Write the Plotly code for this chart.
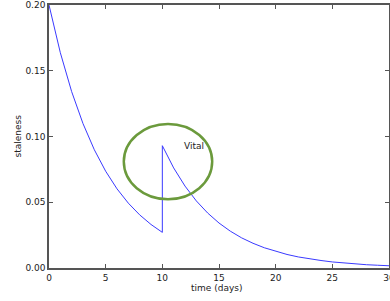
import plotly.graph_objects as go

days = [0, 1, 2, 3, 4, 5, 6, 7, 8, 9, 10,
        10, 11, 12, 13, 14, 15, 16, 17, 18, 19, 20,
        21, 22, 23, 24, 25, 26, 27, 28, 29, 30]
staleness = [0.200, 0.1637, 0.1341, 0.1098, 0.0899, 0.0736, 0.0602, 0.0493, 0.0404, 0.0331, 0.0271,
             0.0930, 0.0761, 0.0623, 0.0510, 0.0418, 0.0342, 0.0280, 0.0229, 0.0188, 0.0154, 0.0126,
             0.0103, 0.0084, 0.0069, 0.0057, 0.0046, 0.0038, 0.0031, 0.0025, 0.0021, 0.0017]

x_ticks = [0, 5, 10, 15, 20, 25, 30]
y_ticks = [0.00, 0.05, 0.10, 0.15, 0.20]
y_tick_labels = ["0.00", "0.05", "0.10", "0.15", "0.20"]

font = dict(family="DejaVu Sans, sans-serif", size=9, color="#222222")

fig = go.Figure()
fig.add_trace(go.Scatter(x=days, y=staleness, mode="lines",
                         line=dict(color="#3a3aff", width=1), showlegend=False))

fig.add_shape(type="circle", xref="x", yref="y",
              x0=6.6, x1=14.4, y0=0.0522, y1=0.1096,
              line=dict(color="#6b9a3c", width=2.5))
fig.add_annotation(x=11.7, y=0.0931, text="Vital", showarrow=False,
                   xanchor="left", yanchor="middle", font=font)

# axis titles
fig.add_annotation(xref="paper", yref="paper", x=0.494, y=-0.076, text="time (days)",
                   showarrow=False, xanchor="center", yanchor="middle", font=font)
fig.add_annotation(xref="paper", yref="paper", x=-0.094, y=0.50, text="staleness",
                   showarrow=False, xanchor="center", yanchor="middle", textangle=-90,
                   font=font)

axis_common = dict(showline=True, linecolor="#555555", linewidth=1.5, mirror="ticks",
                   ticks="inside", ticklen=4, tickcolor="#555555", showgrid=False,
                   zeroline=False, tickfont=font, automargin=False,
                   ticklabeloverflow="allow")

fig.update_xaxes(range=[0, 30], tickvals=x_ticks, **axis_common)
fig.update_yaxes(range=[-1e-9, 0.2 + 1e-9], tickvals=y_ticks, ticktext=y_tick_labels,
                 **axis_common)

fig.update_layout(width=390, height=301, margin=dict(l=49, r=1, t=5, b=33),
                  paper_bgcolor="white", plot_bgcolor="white", font=font)

fig.write_html("out.html", config={"displayModeBar": False},
               post_script="document.body.style.margin='0';document.body.style.overflow='hidden';")
